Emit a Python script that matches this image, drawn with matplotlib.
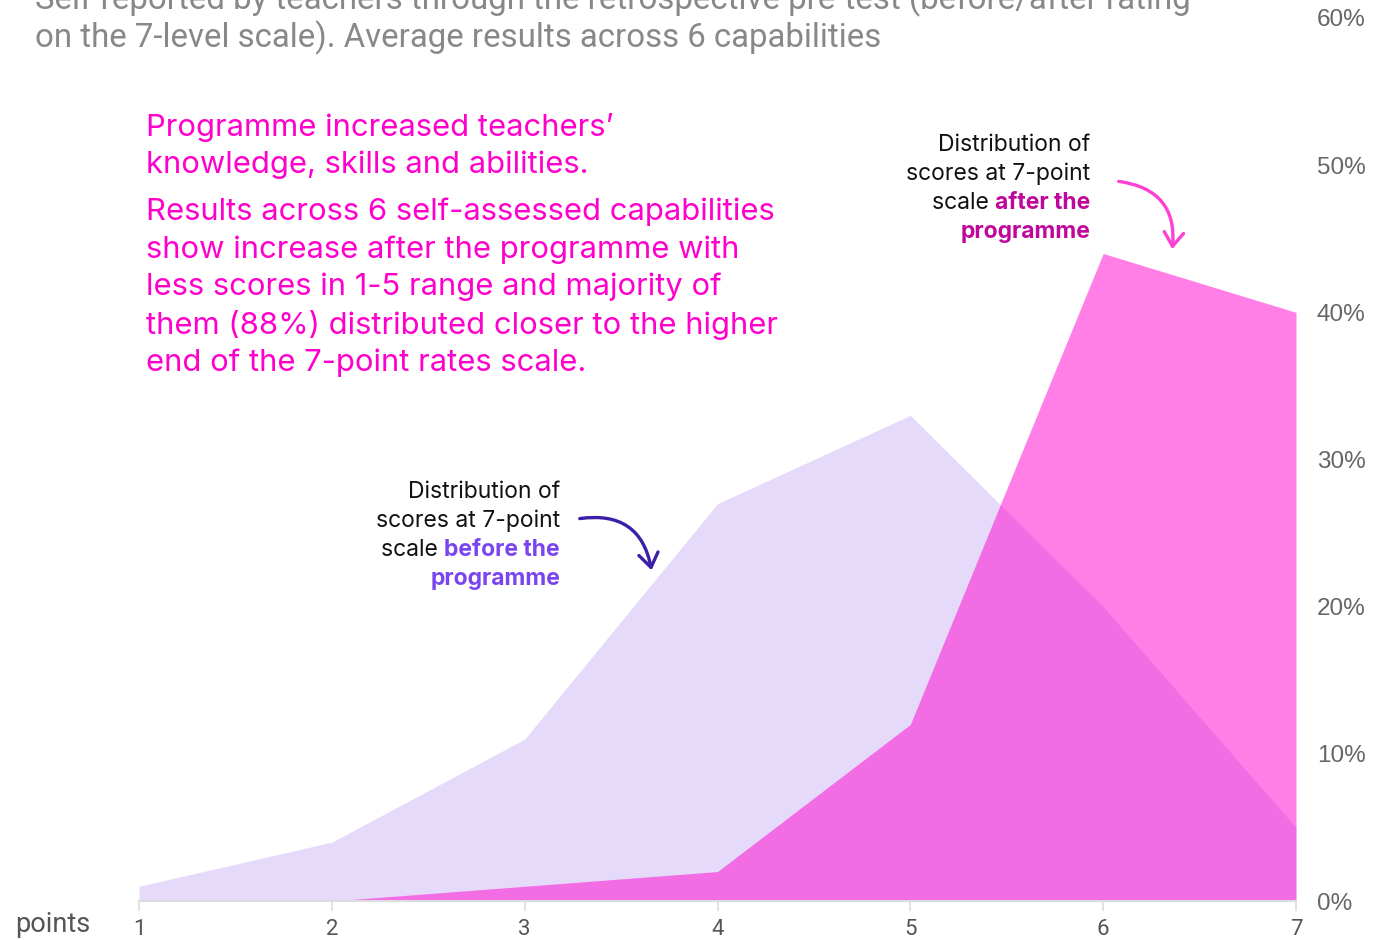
import matplotlib.pyplot as plt
from matplotlib.patches import FancyArrowPatch
from matplotlib.ticker import FuncFormatter

points = [1, 2, 3, 4, 5, 6, 7]
before = [1, 4, 11, 27, 33, 20, 5]
after = [0, 0, 1, 2, 12, 44, 40]

subtitle = ["Self-reported by teachers through the retrospective pre-test (before/after rating",
            "on the 7-level scale). Average results across 6 capabilities"]
headline = "Programme increased teachers’\nknowledge, skills and abilities."
body = ("Results across 6 self-assessed capabilities\nshow increase after the programme with\n"
        "less scores in 1-5 range and majority of\nthem (88%) distributed closer to the higher\n"
        "end of the 7-point rates scale.")

W, H = 1391, 940
fig = plt.figure(figsize=(W / 100, H / 100), dpi=100)
ax = fig.add_axes([139 / W, (H - 901) / H, (1296 - 139) / W, (901 - 18) / H])

ax.fill_between(points, before, 0, color='#E5DAFA', linewidth=0)
ax.fill_between(points, after, 0, color='#FF00D0', alpha=0.5, linewidth=0)

ax.set_xlim(1, 7)
ax.set_ylim(0, 60)
ax.set_xticks(points)
ax.set_yticks(range(0, 61, 10))
ax.yaxis.tick_right()
ax.yaxis.set_major_formatter(FuncFormatter(lambda v, p: f'{v:.0f}%'))
for s in ['top', 'left', 'right']:
    ax.spines[s].set_visible(False)
ax.spines['bottom'].set_color('#DDDDDD')
ax.spines['bottom'].set_linewidth(1.5)
ax.tick_params(axis='x', colors='#DDDDDD', length=7, width=1.2, labelcolor='#555555',
               labelsize=16, pad=6)
ax.tick_params(axis='y', length=0, labelcolor='#666666', labelsize=17.5, pad=15)
for lab in ax.get_xticklabels():
    lab.set_family('Roboto')
for lab in ax.get_yticklabels():
    lab.set_family('Liberation Sans')

fig.text(15 / W, 1 - 925 / H, 'points', fontsize=19.5, color='#555555', family='Roboto',
         va='center', ha='left')

# subtitle (top line partly cut off, as in the original)
fig.text(35 / W, 1 - 0 / H, subtitle[0], fontsize=23.8, color='#888888', family='Roboto',
         va='center', ha='left')
fig.text(35 / W, 1 - 38 / H, subtitle[1], fontsize=23.8, color='#888888', family='Roboto',
         va='center', ha='left')

magenta = '#FF00CC'
fig.text(146 / W, 1 - 113 / H, headline, fontsize=22.3, color=magenta, family='Inter',
         va='top', ha='left', linespacing=1.38)
fig.text(146 / W, 1 - 198 / H, body, fontsize=22.3, color=magenta, family='Inter',
         va='top', ha='left', linespacing=1.38)

renderer = fig.canvas.get_renderer()


def note(x_right, y_top, word, color):
    lines = ['Distribution of', 'scores at 7-point']
    step = 29
    fs = 16.5
    for i, t in enumerate(lines):
        fig.text(x_right / W, 1 - (y_top + i * step) / H, t, fontsize=fs, color='#111111',
                 family='Inter', ha='right', va='center')
    y3 = y_top + 2 * step
    b = fig.text(x_right / W, 1 - y3 / H, f'{word} the', fontsize=fs, color=color,
                 family='Inter', weight='bold', ha='right', va='center')
    x0 = b.get_window_extent(renderer).x0
    fig.text(x0 / W, 1 - y3 / H, 'scale ', fontsize=fs, color='#111111',
             family='Inter', ha='right', va='center')
    fig.text(x_right / W, 1 - (y_top + 3 * step) / H, 'programme', fontsize=fs, color=color,
             family='Inter', weight='bold', ha='right', va='center')


note(560, 492, 'before', '#7A45F0')
note(1090, 145, 'after', '#C0079C')

fig.add_artist(FancyArrowPatch(
    (577 / W, 1 - 519 / H), (652 / W, 1 - 573 / H), transform=fig.transFigure,
    connectionstyle='arc3,rad=-0.5', arrowstyle='->,head_length=10,head_width=7',
    color='#3B1FA8', linewidth=2.4))
fig.add_artist(FancyArrowPatch(
    (1116 / W, 1 - 181 / H), (1172 / W, 1 - 252 / H), transform=fig.transFigure,
    connectionstyle='arc3,rad=-0.5', arrowstyle='->,head_length=10,head_width=7',
    color='#FF40D4', linewidth=2.4))

fig.savefig('out.png', dpi=100)
